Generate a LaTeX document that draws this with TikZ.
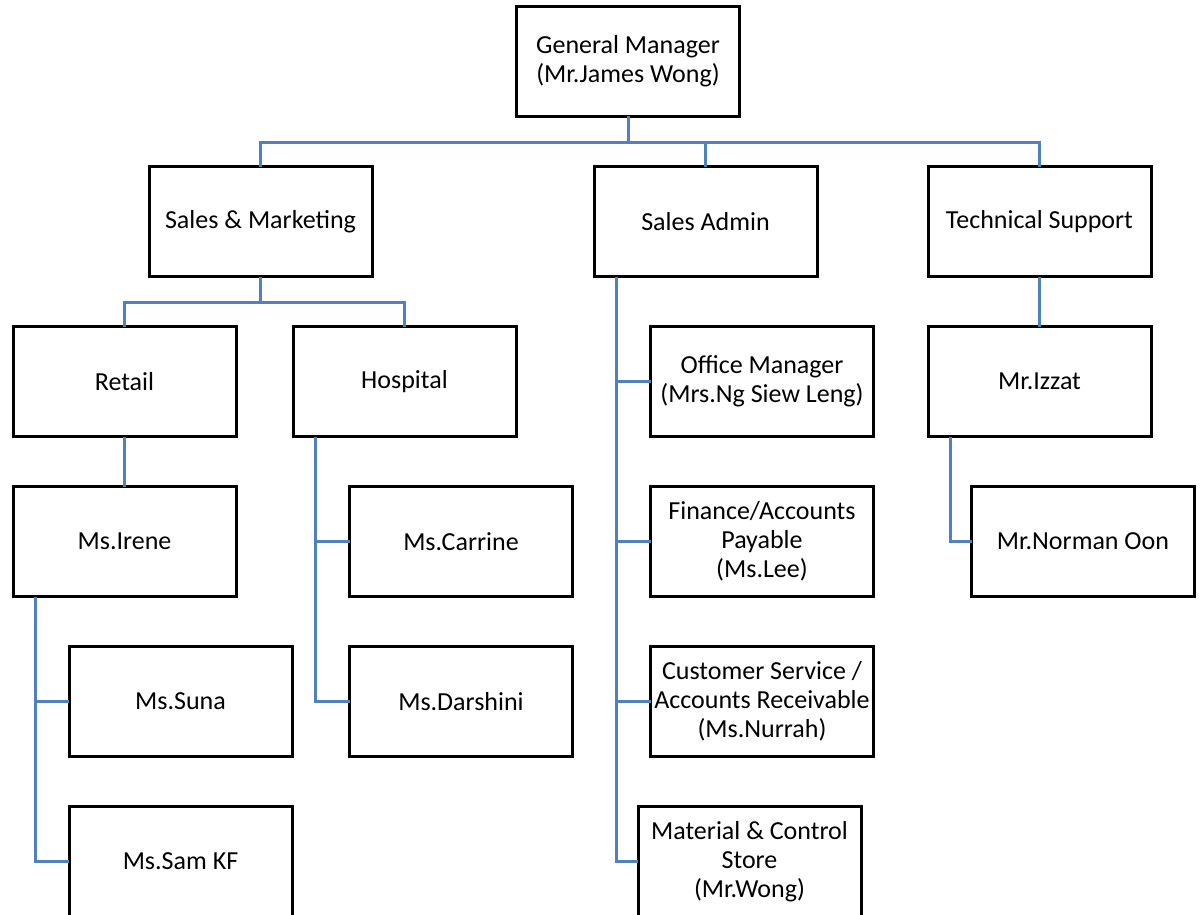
\documentclass[tikz,border=0pt]{standalone}
\usepackage{fontspec}
\setmainfont{Carlito}
\definecolor{linkblue}{RGB}{79,129,189}
\begin{document}
\begin{tikzpicture}[x=1pt,y=-1pt,
  box/.style={draw=black,line width=3pt,fill=white,minimum width=223pt,minimum height=110pt,
    inner sep=0pt,outer sep=0pt,align=center,font=\fontsize{26}{29}\selectfont},
  conn/.style={draw=linkblue,line width=3pt}]
\useasboundingbox (0,0) rectangle (1202,915);
\clip (0,0) rectangle (1202,915);
\fill[white] (0,0) rectangle (1202,915);
% trunks
\coordinate (busTop) at (0,143);
\coordinate (busSM) at (0,302);
\coordinate (tA) at (35,0);
\coordinate (tB) at (315,0);
\coordinate (tC) at (616,0);
\coordinate (tD) at (950,0);
% nodes
\node[box] (gm) at (628,61.5) {General Manager\\(Mr.James Wong)};
\node[box] (sm) at (260.5,221.5) {Sales \& Marketing};
\node[box] (sa) at (705.5,221.5) {Sales Admin};
\node[box] (ts) at (1039.5,221.5) {Technical Support};
\node[box] (retail) at (124.5,381.5) {Retail};
\node[box] (hosp) at (404.5,381.5) {Hospital};
\node[box] (office) at (762,381.5) {Office Manager\\(Mrs.Ng Siew Leng)};
\node[box] (izzat) at (1039.5,381.5) {Mr.Izzat};
\node[box] (irene) at (124.5,541.5) {Ms.Irene};
\node[box] (carrine) at (461,541.5) {Ms.Carrine};
\node[box] (finance) at (762,541.5) {Finance/Accounts\\Payable\\(Ms.Lee)};
\node[box] (norman) at (1083,541.5) {Mr.Norman Oon};
\node[box] (suna) at (180.5,701.5) {Ms.Suna};
\node[box] (darshini) at (461,701.5) {Ms.Darshini};
\node[box] (cust) at (762,701.5) {Customer Service /\\Accounts Receivable\\(Ms.Nurrah)};
\node[box] (samkf) at (180.5,861.5) {Ms.Sam KF};
\node[box] (material) at (749.5,861.5) {Material \& Control\\Store\\(Mr.Wong)};
% connectors
\draw[conn] (gm.south) -- (gm.south |- busTop) -| (sm.north);
\draw[conn] (gm.south |- busTop) -| (sa.north);
\draw[conn] (gm.south |- busTop) -| (ts.north);
\draw[conn] (sm.south) -- (sm.south |- busSM) -| (retail.north);
\draw[conn] (sm.south |- busSM) -| (hosp.north);
\draw[conn] (ts.south) -- (izzat.north);
\draw[conn] (retail.south) -- (irene.north);
\draw[conn] (irene.south -| tA) |- (suna.west);
\draw[conn] (irene.south -| tA) |- (samkf.west);
\draw[conn] (hosp.south -| tB) |- (carrine.west);
\draw[conn] (hosp.south -| tB) |- (darshini.west);
\draw[conn] (sa.south -| tC) |- (office.west);
\draw[conn] (sa.south -| tC) |- (finance.west);
\draw[conn] (sa.south -| tC) |- (cust.west);
\draw[conn] (sa.south -| tC) |- (material.west);
\draw[conn] (izzat.south -| tD) |- (norman.west);
\end{tikzpicture}
\end{document}
